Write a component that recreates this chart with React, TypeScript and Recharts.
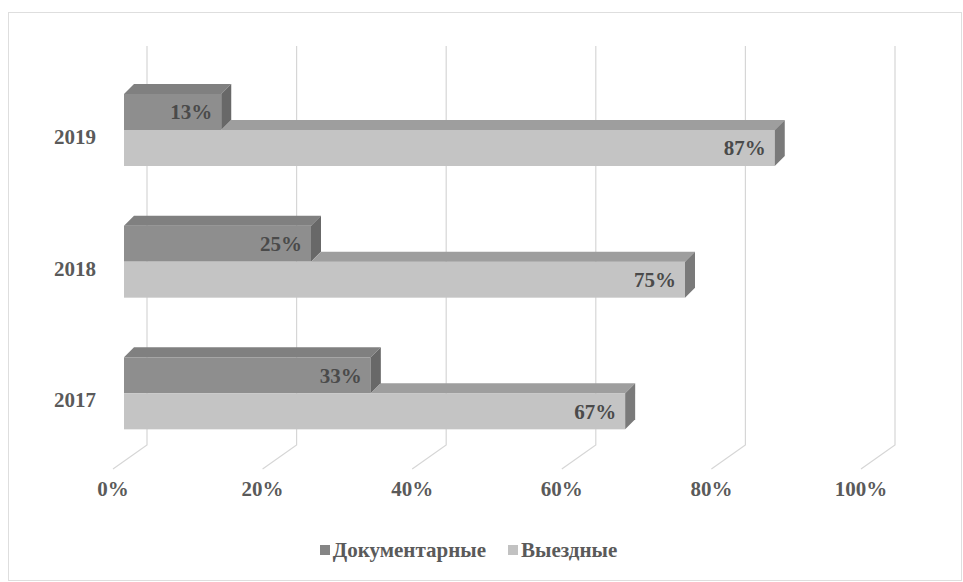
import { BarChart, Bar, XAxis, YAxis, CartesianGrid, Legend, LabelList } from 'recharts'

const years = ['2017', '2018', '2019']
const dokument = [33, 25, 13]
const vyezd = [67, 75, 87]
const xTicks = [0, 20, 40, 60, 80, 100]
const seriesNames = ['Документарные', 'Выездные']

const data = years.map((year, i) => ({ year, dok: dokument[i], vyezd: vyezd[i] }))

// depth of the fake 3D boxes
const DX = 10
const DY = 10
const serif = 'Liberation Serif, DejaVu Serif, serif'
const textGray = '#5a5a5a'

function DarkBar(props: any) {
  const { x, y, width: w, height: h } = props
  if (!w) return null
  return (
    <g>
      <rect x={x} y={y} width={w} height={h} fill="#8e8e8e" />
      <polygon points={`${x},${y} ${x + DX},${y - DY} ${x + w + DX},${y - DY} ${x + w},${y}`} fill="#808080" />
      <polygon points={`${x + w},${y} ${x + w + DX},${y - DY} ${x + w + DX},${y + h - DY} ${x + w},${y + h}`} fill="#686868" />
    </g>
  )
}

function LightBar(props: any) {
  const { x, y, width: w, height: h, payload } = props
  if (!w) return null
  // top face is hidden behind the dark box up to its right edge
  const dr = x + (w * payload.dok) / payload.vyezd
  return (
    <g>
      <rect x={x} y={y} width={w} height={h} fill="#c4c4c4" />
      <polygon points={`${dr},${y} ${dr + DX},${y - DY} ${x + w + DX},${y - DY} ${x + w},${y}`} fill="#9e9e9e" />
      <polygon points={`${x + w},${y} ${x + w + DX},${y - DY} ${x + w + DX},${y + h - DY} ${x + w},${y + h}`} fill="#7a7a7a" />
    </g>
  )
}

function GridLine(props: any) {
  const { x1, y1, y2 } = props
  return (
    <path
      d={`M${x1 + 23},${y1 - 18} L${x1 + 23},${y2 - 14} L${x1 - 11},${y2 + 10}`}
      fill="none" stroke="#d6d6d6" strokeWidth={1.2}
    />
  )
}

function XTick({ x, y, payload }: any) {
  return (
    <text x={x - 11} y={y + 22} textAnchor="middle" dominantBaseline="central"
      fontFamily={serif} fontWeight="bold" fontSize={21} fill={textGray}>
      {payload.value}%
    </text>
  )
}

function YTick({ x, y, payload }: any) {
  return (
    <text x={x - 20} y={y + 7} textAnchor="end" dominantBaseline="central"
      fontFamily={serif} fontWeight="bold" fontSize={21} fill={textGray}>
      {payload.value}
    </text>
  )
}

function LegendBox({ payload }: any) {
  const items = [...(payload || [])].sort(
    (a: any, b: any) => seriesNames.indexOf(a.value) - seriesNames.indexOf(b.value))
  return (
    <div style={{ display: 'flex', justifyContent: 'center', gap: 22, height: 30, lineHeight: '30px',
      fontFamily: serif, fontWeight: 'bold', fontSize: 21, color: textGray, paddingRight: 26 }}>
      {items.map((p: any) => (
        <div key={p.value} style={{ display: 'flex', alignItems: 'center', gap: 3 }}>
          <span style={{ width: 10, height: 10, backgroundColor: p.color, display: 'inline-block' }} />
          <span>{p.value}</span>
        </div>
      ))}
    </div>
  )
}

export default function App() {
  return (
    <div style={{ position: 'absolute', left: 0, top: 0, width: 963, height: 582, background: '#fff' }}>
      <div style={{ position: 'absolute', left: 8, top: 12, width: 952, height: 567, border: '1px solid #dedede' }} />
      <BarChart width={963} height={582} data={data} layout="vertical"
        margin={{ top: 64, right: 91, left: 0, bottom: 17 }} barGap={0} barSize={36}>
        <CartesianGrid horizontal={false} vertical={GridLine} />
        <XAxis type="number" domain={[0, 100]} ticks={xTicks} height={76}
          axisLine={false} tickLine={false} tick={<XTick />} />
        <YAxis type="category" dataKey="year" reversed width={124}
          axisLine={false} tickLine={false} tick={<YTick />} />
        <Legend verticalAlign="bottom" height={30} content={<LegendBox />}
          wrapperStyle={{ left: 0, width: 963 }} />
        <Bar dataKey="dok" name={seriesNames[0]} fill="#858585" shape={<DarkBar />} isAnimationActive={false}>
          <LabelList dataKey="dok" position="insideRight" offset={9} formatter={(v: any) => `${v}%`}
            style={{ fontFamily: serif, fontWeight: 'bold', fontSize: 21, fill: '#4a4a4a' }} />
        </Bar>
        <Bar dataKey="vyezd" name={seriesNames[1]} fill="#c2c2c2" shape={<LightBar />} isAnimationActive={false}>
          <LabelList dataKey="vyezd" position="insideRight" offset={9} formatter={(v: any) => `${v}%`}
            style={{ fontFamily: serif, fontWeight: 'bold', fontSize: 21, fill: '#4a4a4a' }} />
        </Bar>
      </BarChart>
    </div>
  )
}
